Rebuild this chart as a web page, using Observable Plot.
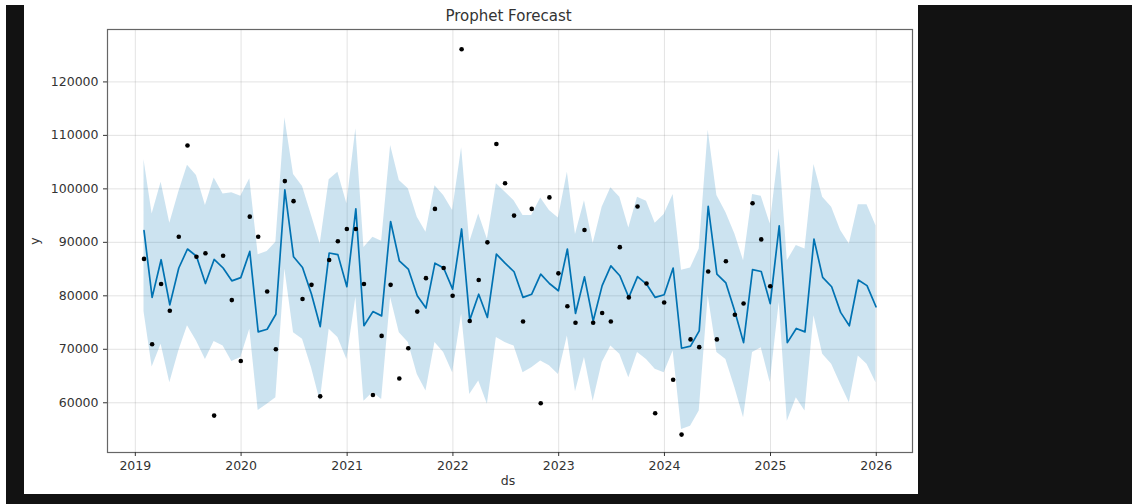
<!DOCTYPE html>
<html><head><meta charset="utf-8">
<script src="https://cdn.jsdelivr.net/npm/d3@7"></script>
<script src="https://cdn.jsdelivr.net/npm/@observablehq/plot@0.6"></script>
<style>
html,body{margin:0;padding:0;background:#fff;width:1132px;height:504px;overflow:hidden;font-family:"DejaVu Sans",sans-serif}
#dark{position:absolute;left:6px;top:5px;width:1126px;height:499px;background:#121212}
#panel{position:absolute;left:24px;top:5px;width:894px;height:489px;background:#fff}
#chart{position:absolute;left:0;top:0}
.lbl{position:absolute;color:#333;white-space:nowrap;line-height:1}
#title{left:484.5px;top:4.3px;font-size:15px;transform:translateX(-50%)}
#xlab{left:484px;top:470.4px;font-size:12.5px;transform:translateX(-50%)}
#ylab{left:11.3px;top:236px;font-size:12.5px;transform:translate(-50%,-50%) rotate(-90deg)}
</style></head><body>
<div id="dark"></div>
<div id="panel">
  <div id="chart"></div>
  <div class="lbl" id="title">Prophet Forecast</div>
  <div class="lbl" id="xlab">ds</div>
  <div class="lbl" id="ylab">y</div>
</div>
<script>
// Forecast values (monthly, Jan 2019 .. Dec 2025)
const yhat = [
  92200, 79700, 86750, 78300, 85200, 88750, 87400, 82300, 86800, 85200, 82800, 83400,
  88300, 73250, 73750, 76550, 99800, 87300, 85300, 80300, 74250, 88000, 87700, 81700,
  96250, 74400, 77050, 76250, 93900, 86550, 85000, 80000, 77700, 86100, 85200, 81250,
  92500, 75450, 80300, 75950, 87800, 86100, 84500, 79700, 80300, 84050, 82300, 80950,
  88750, 76700, 83550, 75300, 81900, 85600, 83750, 79700, 83600, 82200, 79700, 80200,
  85200, 70200, 70600, 73450, 96750, 84050, 82400, 77050, 71250, 84900, 84550, 78550,
  93100, 71250, 73900, 73250, 90600, 83450, 81700, 76900, 74400, 82950, 81900, 77950
];
const upper = [
  105450, 95300, 101250, 93550, 99400, 104400, 102500, 96900, 102050, 99050, 99250, 98600,
  101900, 87700, 88300, 90000, 113300, 102700, 100450, 95000, 89700, 101700, 103100, 97200,
  111250, 89050, 90950, 90200, 108100, 101550, 100000, 94700, 91900, 100600, 98750, 95950,
  107700, 90000, 95300, 90600, 100950, 99400, 97800, 95000, 95000, 98300, 95950, 94550,
  103100, 91450, 97800, 89800, 96550, 100200, 98450, 92700, 98450, 97700, 93550, 95200,
  98950, 84800, 85200, 88750, 110950, 98750, 95600, 91550, 86550, 98950, 98600, 93450,
  107500, 86550, 89400, 88750, 104550, 98450, 96550, 92200, 89700, 97050, 97050, 93100
];
const lower = [
  77000, 66700, 70950, 63750, 69700, 74400, 71550, 68100, 71450, 70600, 67700, 68450,
  73750, 58550, 59700, 60950, 85000, 73100, 71900, 66550, 60300, 73750, 72200, 68100,
  79700, 60300, 61900, 60600, 79700, 73100, 71250, 65300, 62200, 71250, 69400, 65600,
  76550, 61550, 64050, 59700, 72200, 71250, 70600, 65600, 66550, 67800, 66900, 65300,
  72500, 62050, 68450, 60300, 67500, 70600, 69050, 64700, 69400, 68100, 66250, 65600,
  69700, 55000, 55600, 58450, 80000, 69400, 68100, 62800, 57200, 69400, 70300, 63750,
  78750, 56550, 60950, 58450, 76250, 69050, 67200, 63450, 60000, 68750, 67200, 63750
];
// Observed values (monthly, Jan 2019 .. Dec 2024)
const actual = [
  86900, 70950, 82200, 77200, 91050, 108100, 87300, 87950, 57600, 87500, 79200, 67800,
  94800, 91050, 80800, 70000, 101450, 97700, 79400, 82050, 61200, 86700, 90200, 92500,
  92500, 82200, 61450, 72500, 82050, 64550, 70200, 77050, 83300, 96250, 85200, 80000,
  126100, 75300, 82950, 90000, 108400, 101050, 95000, 75200, 96250, 59900, 98400, 84200,
  78050, 74950, 92300, 74950, 76800, 75200, 89100, 79700, 96700, 82300, 58050, 78750,
  64300, 54050, 71850, 70400, 84550, 71850, 86450, 76450, 78550, 97300, 90550, 81800
];
const yearTicks = [2019, 2020, 2021, 2022, 2023, 2024, 2025, 2026];
const yTicks = [60000, 70000, 80000, 90000, 100000, 110000, 120000];

// month-end dates
const ds = d3.utcMonth.range(new Date(Date.UTC(2019, 1, 1)), new Date(Date.UTC(2026, 1, 1)))
  .map(d => d3.utcDay.offset(d, -1));
const forecast = ds.map((d, i) => ({ds: d, yhat: yhat[i], lower: lower[i], upper: upper[i]}));
const history = actual.map((v, i) => ({ds: ds[i], y: v}));
const xTicks = yearTicks.map(y => new Date(Date.UTC(y, 0, 1)));

const chart = Plot.plot({
  width: 894,
  height: 489,
  marginLeft: 83,
  marginRight: 6,
  marginTop: 24,
  marginBottom: 42,
  style: {fontFamily: "DejaVu Sans", fontSize: "12.5px", color: "#333", background: "#fff", overflow: "visible"},
  x: {type: "utc", domain: [new Date(Date.UTC(2018, 8, 27)), new Date(Date.UTC(2026, 4, 6))]},
  y: {domain: [50700, 129800]},
  marks: [
    Plot.gridX(xTicks, {stroke: "#808080", strokeOpacity: 0.22, strokeWidth: 1}),
    Plot.gridY(yTicks, {stroke: "#808080", strokeOpacity: 0.22, strokeWidth: 1}),
    Plot.areaY(forecast, {x: "ds", y1: "lower", y2: "upper", fill: "#0072B2", fillOpacity: 0.2}),
    Plot.line(forecast, {x: "ds", y: "yhat", stroke: "#0072B2", strokeWidth: 1.7}),
    Plot.dot(history, {x: "ds", y: "y", r: 2.3, fill: "black", stroke: "none"}),
    Plot.frame({stroke: "#666", strokeWidth: 1.2}),
    Plot.axisX(xTicks, {tickSize: 4, tickPadding: 5, fontSize: 12.5, tickFormat: d3.utcFormat("%Y"), label: null}),
    Plot.axisY(yTicks, {tickSize: 4, tickPadding: 5, fontSize: 12.5, tickFormat: d3.format("d"), label: null})
  ]
});
document.getElementById("chart").appendChild(chart);
</script>
</body></html>
